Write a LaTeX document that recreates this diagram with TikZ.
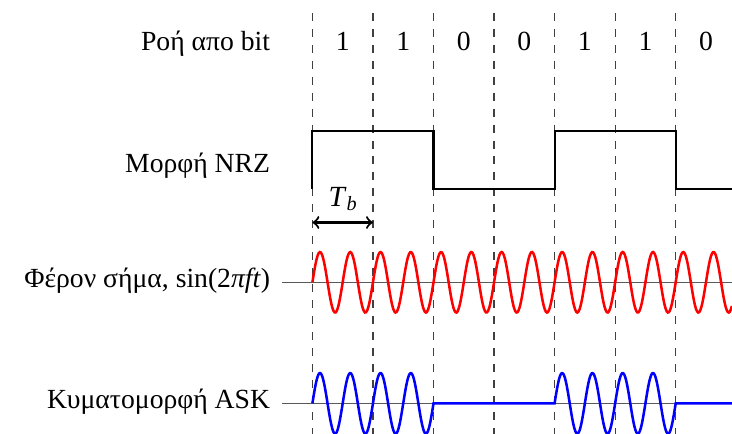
\documentclass[tikz,border=0pt]{standalone}
\usepackage{fontspec}
\setmainfont{Liberation Serif}

\begin{document}
\begin{tikzpicture}[
        x=0.8cm, y=1cm,
        every node/.style={font=\fontsize{10.4}{12.5}\selectfont, inner sep=0pt},
        rowlabel/.style={anchor=base east},
        bitlabel/.style={anchor=base},
        bitline/.style={dashed, line width=0.45pt, black!75},
        axisline/.style={line width=0.5pt, black!65},
        nrz/.style={thick, black},
        wave/.style={line width=0.95pt, smooth, samples=400},
        arrow/.style={<->, thick}
    ]
    \useasboundingbox (-5.16,-0.396) rectangle (6.93,5.33);

    % Bit boundaries
    \draw[bitline] (0,5.16) -- (0,-0.4);
    \draw[bitline] (1,5.16) -- (1,-0.4);
    \draw[bitline] (2,5.16) -- (2,-0.4);
    \draw[bitline] (3,5.16) -- (3,-0.4);
    \draw[bitline] (4,5.16) -- (4,-0.4);
    \draw[bitline] (5,5.16) -- (5,-0.4);
    \draw[bitline] (6,5.16) -- (6,-0.4);

    % Row labels
    \node[rowlabel] (streamlabel)  at (-0.69,4.66)  {Ροή απο bit};
    \node[rowlabel] (nrzlabel)     at (-0.69,3.05)  {Μορφή NRZ};
    \node[rowlabel] (carrierlabel) at (-0.69,1.537) {Φέρον σήμα, sin(2\textit{πft})};
    \node[rowlabel] (asklabel)     at (-0.69,-0.066) {Κυματομορφή ASK};

    % Bit stream
    \node[bitlabel] (bit1) at (0.5,4.66) {1};
    \node[bitlabel] (bit2) at (1.5,4.66) {1};
    \node[bitlabel] (bit3) at (2.5,4.66) {0};
    \node[bitlabel] (bit4) at (3.5,4.66) {0};
    \node[bitlabel] (bit5) at (4.5,4.66) {1};
    \node[bitlabel] (bit6) at (5.5,4.66) {1};
    \node[bitlabel] (bit7) at (6.5,4.66) {0};

    % NRZ signal
    \draw[nrz] (0,2.83) -- (0,3.6) -- (2,3.6) -- (2,2.83) -- (4,2.83)
        -- (4,3.6) -- (6,3.6) -- (6,2.83) -- (6.93,2.83);

    % Bit period
    \coordinate (tbstart) at (0,2.39);
    \coordinate (tbend)   at (1,2.39);
    \draw[arrow] (tbstart) -- (tbend);
    \node[anchor=base] (tblabel) at (0.5,2.597)
        {\fontsize{11}{12}\selectfont\textit{T}\raisebox{-1.3pt}{\fontsize{7.6}{8}\selectfont\textit{b}}};

    % Carrier
    \coordinate (carrierstart) at (-0.5,1.6);
    \coordinate (carrierend)   at (6.93,1.6);
    \draw[axisline] (carrierstart) -- (carrierend);
    \draw[wave, red] plot[domain=0:6.93] (\x,{1.6+0.4*sin(720*\x)});

    % ASK waveform
    \coordinate (askstart) at (-0.5,0);
    \coordinate (askend)   at (6.93,0);
    \draw[axisline] (askstart) -- (askend);
    \draw[wave, blue] plot[domain=0:2] (\x,{0.4*sin(720*\x)}) -- (2,0) -- (4,0)
        -- plot[domain=4:6] (\x,{0.4*sin(720*\x)}) -- (6,0) -- (askend);

\end{tikzpicture}
\end{document}
